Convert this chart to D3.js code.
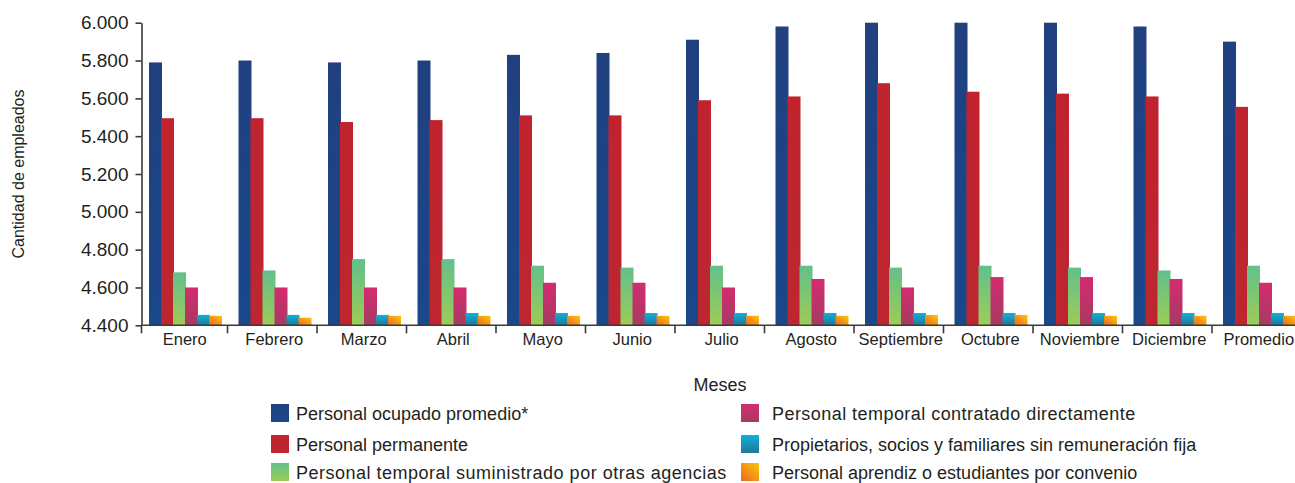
<!DOCTYPE html>
<html>
<head>
<meta charset="utf-8">
<script src="https://cdn.jsdelivr.net/npm/d3@7"></script>
<style>
  body { margin: 0; background: #fff; }
  svg text { font-family: "Liberation Sans", Arial, sans-serif; fill: #231f20; }
  .axis path, .axis line { stroke: #3a3a3a; stroke-width: 1.6; }
</style>
</head>
<body>
<svg id="chart"></svg>
<script>
const months = ['Enero', 'Febrero', 'Marzo', 'Abril', 'Mayo', 'Junio', 'Julio', 'Agosto',
  'Septiembre', 'Octubre', 'Noviembre', 'Diciembre', 'Promedio'];

const seriesNames = [
  'Personal ocupado promedio*',
  'Personal permanente',
  'Personal temporal suministrado por otras agencias',
  'Personal temporal contratado directamente',
  'Propietarios, socios y familiares sin remuneración fija',
  'Personal aprendiz o estudiantes por convenio'
];

const ocupado     = [5790, 5800, 5790, 5800, 5830, 5840, 5910, 5980, 6000, 6000, 6000, 5980, 5900];
const permanente  = [5495, 5495, 5475, 5485, 5510, 5510, 5590, 5610, 5680, 5635, 5625, 5610, 5555];
const suministrado = [4680, 4690, 4750, 4750, 4715, 4705, 4715, 4715, 4705, 4715, 4705, 4690, 4715];
const contratado  = [4600, 4600, 4600, 4600, 4625, 4625, 4600, 4645, 4600, 4655, 4655, 4645, 4625];
const propietarios = [4455, 4455, 4455, 4465, 4465, 4465, 4465, 4465, 4465, 4465, 4465, 4465, 4465];
const aprendiz    = [4450, 4440, 4450, 4450, 4450, 4450, 4450, 4450, 4455, 4455, 4450, 4450, 4450];

const yTicks = [4400, 4600, 4800, 5000, 5200, 5400, 5600, 5800, 6000];

class GroupedBarChart {
  constructor(_config, _data) {
    this.config = {
      parentElement: _config.parentElement,
      containerWidth: _config.containerWidth || 1295,
      containerHeight: _config.containerHeight || 483
    }
    this.data = _data;
    this.initVis();
  }

  initVis() {
    let vis = this;

    vis.svg = d3.select(vis.config.parentElement)
      .attr('width', vis.config.containerWidth)
      .attr('height', vis.config.containerHeight);

    // gradients for the bar fills [top, bottom, diagonal]
    vis.gradients = [
      ['#21407f', '#19488b', false],
      ['#c0232e', '#bd2630', false],
      ['#62c08b', '#9dcc57', false],
      ['#d42c6f', '#a63a62', false],
      ['#10b1d9', '#1f7796', false],
      ['#fdc70b', '#ec651f', true]
    ];
    let defs = vis.svg.append('defs');
    vis.gradients.forEach((g, i) => {
      let lg = defs.append('linearGradient')
        .attr('id', 'grad' + i)
        .attr('x1', g[2] ? '1' : '0').attr('y1', '0')
        .attr('x2', '0').attr('y2', '1');
      lg.append('stop').attr('offset', '0%').attr('stop-color', g[0]);
      lg.append('stop').attr('offset', '100%').attr('stop-color', g[1]);
    });

    vis.yScale = d3.scaleLinear()
      .domain([4400, 6000])
      .range([325.3, 22.7]);

    vis.xScale = d3.scaleBand()
      .domain(months)
      .range([138, 1301.5]);

    vis.xSub = d3.scaleBand()
      .domain(d3.range(seriesNames.length))
      .range([11, 83]);

    vis.chart = vis.svg.append('g');

    vis.updateVis();
  }

  updateVis() {
    let vis = this;
    vis.groups = months.map((m, i) => ({
      month: m,
      values: vis.data.map((s, k) => ({ k: k, value: s[i] }))
    }));
    vis.renderVis();
  }

  renderVis() {
    let vis = this;

    // bars
    let groups = vis.chart.selectAll('.group')
      .data(vis.groups)
      .join('g')
      .attr('class', 'group')
      .attr('transform', d => `translate(${vis.xScale(d.month)},0)`);

    groups.selectAll('rect')
      .data(d => d.values)
      .join('rect')
      .attr('x', d => vis.xSub(d.k))
      .attr('width', vis.xSub.bandwidth() + 1)
      .attr('y', d => vis.yScale(d.value))
      .attr('height', d => vis.yScale(4400) - vis.yScale(d.value))
      .attr('fill', d => `url(#grad${d.k})`);

    // y axis
    let yAxis = d3.axisLeft(vis.yScale)
      .tickValues(yTicks)
      .tickSize(6)
      .tickSizeOuter(0)
      .tickPadding(7)
      .tickFormat(d => d3.format(',')(d).replace(',', '.'));

    vis.svg.append('g')
      .attr('class', 'axis y-axis')
      .attr('transform', 'translate(141.5,0)')
      .call(yAxis)
      .call(g => g.selectAll('text').attr('font-size', 19).attr('fill', '#231f20'));

    // x axis: ticks at category boundaries
    let xAxisG = vis.svg.append('g')
      .attr('class', 'axis x-axis')
      .attr('transform', 'translate(0,325.3)');

    xAxisG.append('line')
      .attr('x1', 141.5).attr('x2', 1295)
      .attr('y1', 0).attr('y2', 0);

    let bounds = months.slice(1).map(m => vis.xScale(m)).concat([141.5]);
    xAxisG.selectAll('.tick-line')
      .data(bounds)
      .join('line')
      .attr('class', 'tick-line')
      .attr('x1', d => d).attr('x2', d => d)
      .attr('y1', 0).attr('y2', 8);

    xAxisG.selectAll('.tick-label')
      .data(months)
      .join('text')
      .attr('class', 'tick-label')
      .attr('x', d => vis.xScale(d) + vis.xScale.bandwidth() / 2 + 2)
      .attr('y', 20)
      .attr('text-anchor', 'middle')
      .attr('font-size', 16.5)
      .text(d => d);

    // axis titles
    vis.svg.append('text')
      .attr('x', 720).attr('y', 391)
      .attr('text-anchor', 'middle')
      .attr('font-size', 18)
      .text('Meses');

    vis.svg.append('text')
      .attr('transform', 'translate(24,174) rotate(-90)')
      .attr('text-anchor', 'middle')
      .attr('font-size', 16)
      .text('Cantidad de empleados');

    // legend
    let legend = vis.svg.append('g').attr('class', 'legend');
    let items = legend.selectAll('.item')
      .data(seriesNames)
      .join('g')
      .attr('class', 'item')
      .attr('transform', (d, i) => `translate(${i < 3 ? 271 : 741},${[413, 444, 472][i % 3]})`);

    items.append('rect')
      .attr('x', 0).attr('y', -9)
      .attr('width', 18).attr('height', 18)
      .attr('fill', (d, i) => `url(#grad${i})`);

    items.append('text')
      .attr('x', (d, i) => i < 3 ? 25 : 31)
      .attr('y', 6.5)
      .attr('font-size', 18)
      .attr('letter-spacing', (d, i) => i === 2 ? 0.5 : (i === 3 ? 0.45 : 0))
      .text(d => d);
  }
}

new GroupedBarChart({ parentElement: '#chart' },
  [ocupado, permanente, suministrado, contratado, propietarios, aprendiz]);
</script>
</body>
</html>
